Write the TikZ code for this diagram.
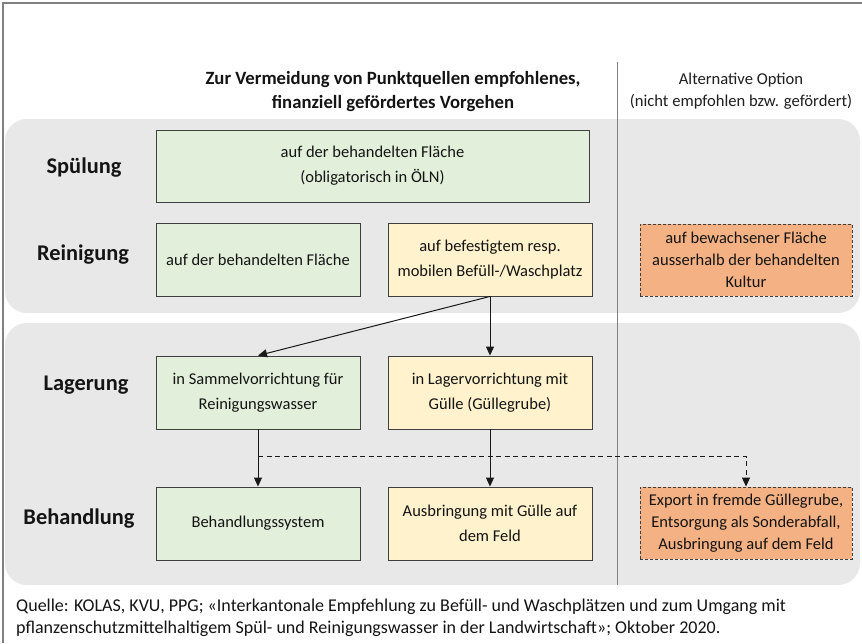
\documentclass[tikz,border=0pt]{standalone}
\usepackage{fontspec}
\setmainfont{Carlito}
\usetikzlibrary{arrows.meta,calc}
\definecolor{panelgray}{HTML}{E8E8E8}
\definecolor{boxgreen}{HTML}{E2EFDA}
\definecolor{boxyellow}{HTML}{FFF2CC}
\definecolor{boxorange}{HTML}{F4B183}
\definecolor{borderdark}{HTML}{3F3F3F}
\definecolor{framegray}{HTML}{808080}
\begin{document}
\begin{tikzpicture}[x=1pt,y=-1pt,
  box/.style={draw=borderdark, line width=0.9pt, minimum width=204pt, minimum height=73pt,
    align=center, inner sep=2pt, font=\fontsize{16.5}{25}\selectfont, text=black!92},
  gbox/.style={box, fill=boxgreen},
  ybox/.style={box, fill=boxyellow},
  obox/.style={box, fill=boxorange, dash pattern=on 3pt off 2pt, minimum width=212pt, minimum height=72pt,
    font=\fontsize{16.5}{22}\selectfont},
  rowlabel/.style={font=\fontsize{22.4}{26}\selectfont\bfseries, text=black!92},
  arr/.style={-{Triangle[length=9pt,width=8pt]}, line width=1pt, draw=black!90},
  panel/.style={fill=panelgray, rounded corners=22pt}]
\useasboundingbox (0,0) rectangle (862,643);
\fill[white] (0,0) rectangle (862,643);
\draw[framegray, line width=1.5pt] (3,643) -- (3,3) -- (862,3);
% panels
\fill[panel] (5,119) rectangle (860,313);
\fill[panel] (5,323) rectangle (860,585);
% separator
\draw[framegray, line width=0.8pt] (617,62) -- (617,585);
% headers
\node[font=\fontsize{18.7}{24}\selectfont\bfseries, align=center, text=black!92] (hmain) at (393,92)
  {Zur Vermeidung von Punktquellen empfohlenes,\\finanziell gefördertes Vorgehen};
\node[font=\fontsize{16.6}{22}\selectfont, align=center, text=black!88] (halt) at (741,91)
  {Alternative Option\\(nicht empfohlen bzw. gefördert)};
% row labels
\node[rowlabel] (lsp) at (84,168) {Spülung};
\node[rowlabel] (lre) at (83,255) {Reinigung};
\node[rowlabel] (lla) at (86,385) {Lagerung};
\node[rowlabel] (lbe) at (79,519) {Behandlung};
% boxes
\node[gbox, minimum width=433pt, minimum height=72pt] (sp) at (372.5,166)
  {auf der behandelten Fläche\\(obligatorisch in ÖLN)};
\node[gbox] (reL) at (258,259.5) {auf der behandelten Fläche};
\node[ybox] (reR) at (490,259.5) {auf befestigtem resp.\\mobilen Befüll-/Waschplatz};
\node[obox] (reA) at (746,260) {auf bewachsener Fläche\\ausserhalb der behandelten\\Kultur};
\node[gbox] (laL) at (258,392.5) {in Sammelvorrichtung für\\Reinigungswasser};
\node[ybox] (laR) at (490,392.5) {in Lagervorrichtung mit\\Gülle (Güllegrube)};
\node[gbox] (beL) at (258,523.5) {Behandlungssystem};
\node[ybox] (beR) at (490,523.5) {Ausbringung mit Gülle auf\\dem Feld};
\node[obox] (beA) at (746,523) {Export in fremde Güllegrube,\\Entsorgung als Sonderabfall,\\Ausbringung auf dem Feld};
% arrows
\draw[arr] (reR.south) -- (laR.north);
\draw[arr] (reR.south) -- (laL.north);
\draw[arr] (laL.south) -- (beL.north);
\draw[arr] (laR.south) -- (beR.north);
\coordinate (dj) at (258,456);
\draw[arr, line width=0.9pt, dash pattern=on 5pt off 3.5pt] (dj) -| (beA.north);
% source
\node[anchor=west, align=left, inner sep=0pt, font=\fontsize{18}{22}\selectfont, text=black!92] (src) at (16,618)
  {Quelle: KOLAS, KVU, PPG; «Interkantonale Empfehlung zu Befüll- und Waschplätzen und zum Umgang mit\\pflanzenschutzmittelhaltigem Spül- und Reinigungswasser in der Landwirtschaft»; Oktober 2020.};
\end{tikzpicture}
\end{document}
